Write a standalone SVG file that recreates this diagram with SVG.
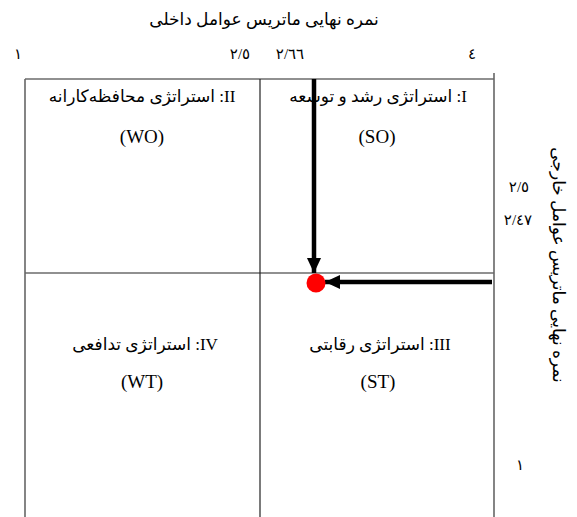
<svg xmlns="http://www.w3.org/2000/svg" width="577" height="517" viewBox="0 0 577 517">
<defs>
<style>
text{font-family:"Liberation Serif","DejaVu Sans",serif;fill:#000;}
.ar{font-size:17px;direction:rtl;unicode-bidi:embed;text-anchor:middle;}
.lbl{font-size:19px;text-anchor:middle;}
.num{font-size:15px;text-anchor:middle;}
.grid{stroke:#222;stroke-width:1.2;fill:none;}
.edge{stroke:#666;stroke-width:1.6;fill:none;}
.conn{stroke:#000;stroke-width:4.5;fill:none;}
</style>
<marker id="ah" markerWidth="4" markerHeight="4" refX="3.4" refY="2" orient="auto" markerUnits="strokeWidth" viewBox="0 0 4 4">
<path d="M0,0.4 L3.4,2 L0,3.6 Z" fill="#000"/>
</marker>
</defs>
<rect width="577" height="517" fill="#fff"/>
<g id="axes">
<text class="ar" x="264" y="25">نمره نهایی ماتریس عوامل داخلی</text>
<text class="num" x="18" y="59">١</text>
<text class="num" x="240" y="59">٢/٥</text>
<text class="num" x="290" y="59">٢/٦٦</text>
<text class="num" x="472" y="59">٤</text>
<text class="num" x="519" y="192">٢/٥</text>
<text class="num" x="518" y="225">٢/٤٧</text>
<text class="num" x="520" y="470">١</text>
<text class="ar" transform="translate(553,265) rotate(90)" x="0" y="0">نمره نهایی ماتریس عوامل خارجی</text>
</g>
<g id="grid">
<line class="grid" x1="25" y1="79" x2="494" y2="79"/>
<line class="grid" x1="25" y1="273" x2="494" y2="273"/>
<line class="grid" x1="260" y1="79" x2="260" y2="517"/>
<line class="edge" x1="25" y1="79" x2="25" y2="517"/>
<line class="edge" x1="494" y1="73" x2="494" y2="517"/>
</g>
<g id="q1">
<text class="ar" x="378" y="102">I: استراتژی رشد و توسعه</text>
<text class="lbl" x="377" y="143">(SO)</text>
</g>
<g id="q2">
<text class="ar" x="142" y="102">II: استراتژی محافظه‌کارانه</text>
<text class="lbl" x="142" y="143">(WO)</text>
</g>
<g id="q3">
<text class="ar" x="380" y="350">III: استراتژی رقابتی</text>
<text class="lbl" x="378" y="388">(ST)</text>
</g>
<g id="q4">
<text class="ar" x="145" y="350">IV: استراتژی تدافعی</text>
<text class="lbl" x="142" y="388">(WT)</text>
</g>
<g id="connectors">
<line class="conn" x1="314" y1="79" x2="314" y2="273" marker-end="url(#ah)"/>
<line class="conn" x1="492" y1="282" x2="325" y2="282" marker-end="url(#ah)"/>
</g>
<g id="point">
<circle cx="316" cy="283" r="9.5" fill="#ff0000"/>
</g>
</svg>
